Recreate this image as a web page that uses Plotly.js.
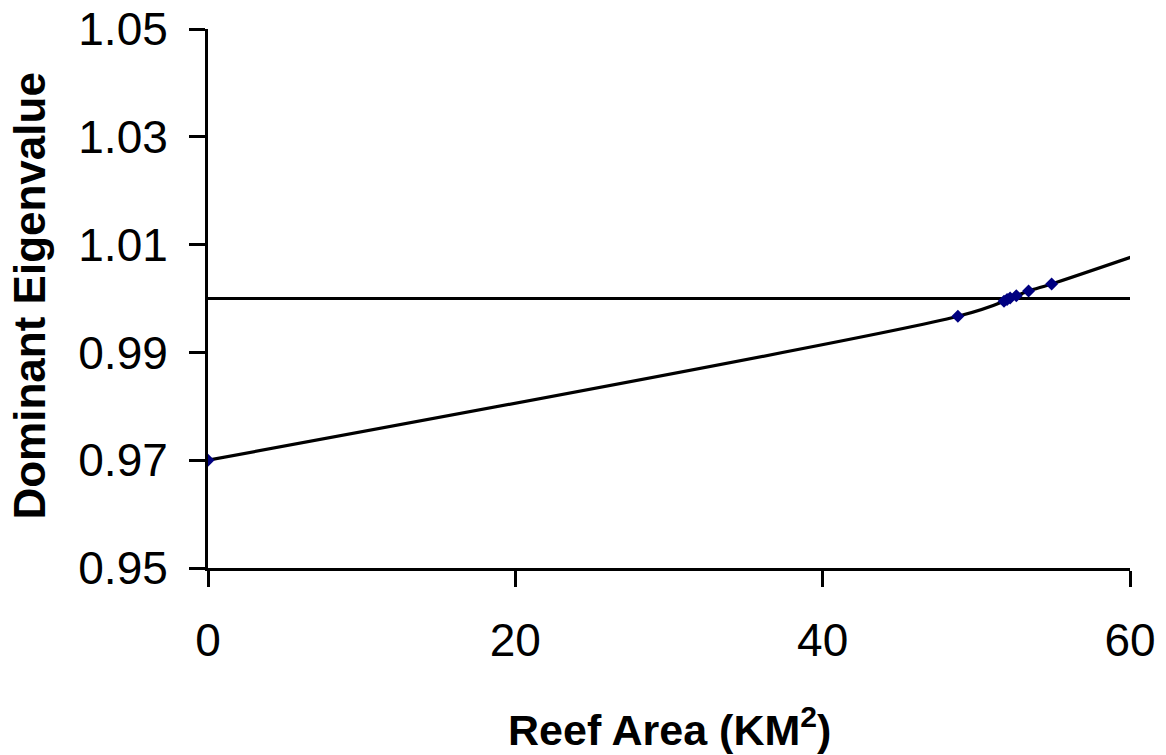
<!DOCTYPE html>
<html>
<head>
<meta charset="utf-8">
<script src="https://cdn.plot.ly/plotly-3.0.1.min.js"></script>
<style>html,body{margin:0;padding:0;background:#fff;}#chart{width:1166px;height:755px;}</style>
</head>
<body>
<div id="chart"></div>
<script>
const reefArea = [0, 48.8, 51.8, 52.0, 52.2, 52.6, 53.4, 54.9];
const eigenvalue = [0.970, 0.9967, 0.9995, 0.9998, 1.0001, 1.0005, 1.0014, 1.0027];
const curveEndX = 60.3;
const curveEndY = 1.0079;
const thresholdX = [0, 60];
const thresholdY = [1.0, 1.0];
const xTicks = [0, 20, 40, 60];
const yTicks = [0.95, 0.97, 0.99, 1.01, 1.03, 1.05];
const xTitle = '<b>Reef Area (KM<sup>2</sup>)</b>';
const yTitle = '<b>Dominant Eigenvalue</b>';

const lineX = reefArea.concat([curveEndX]);
const lineY = eigenvalue.concat([curveEndY]);

const traces = [
  {x: thresholdX, y: thresholdY, mode: 'lines', line: {color: '#000', width: 3}, hoverinfo: 'skip'},
  {x: lineX, y: lineY, mode: 'lines', line: {color: '#000', width: 3.2, shape: 'spline', smoothing: 0.8}},
  {x: reefArea, y: eigenvalue, mode: 'markers', marker: {symbol: 'diamond', color: '#000080', size: 10}}
];

const font = 'Liberation Sans, Arial, sans-serif';
const layout = {
  width: 1166, height: 755,
  margin: {l: 208, r: 36, t: 29, b: 187},
  showlegend: false,
  paper_bgcolor: '#fff', plot_bgcolor: '#fff',
  xaxis: {
    range: [0, 60], tickvals: xTicks, ticktext: xTicks.map(String),
    showgrid: false, zeroline: false, showline: true, linecolor: '#000', linewidth: 3,
    ticks: 'outside', ticklen: 16, tickwidth: 3, tickcolor: '#000',
    tickfont: {family: font, size: 46, color: '#000'}, ticklabelstandoff: 14
  },
  yaxis: {
    range: [0.95, 1.05], tickvals: yTicks, ticktext: yTicks.map(v => v.toFixed(2)),
    showgrid: false, zeroline: false, showline: true, linecolor: '#000', linewidth: 3,
    ticks: 'outside', ticklen: 16, tickwidth: 3, tickcolor: '#000',
    tickfont: {family: font, size: 46, color: '#000'}, ticklabelstandoff: 12
  },
  annotations: [
    {text: xTitle, xref: 'paper', yref: 'paper', x: 0.5, y: -0.2945, xanchor: 'center', yanchor: 'middle',
     showarrow: false, font: {family: font, size: 43, color: '#000'}},
    {text: yTitle, xref: 'paper', yref: 'paper', x: -0.1941, y: 0.5037, xanchor: 'center', yanchor: 'middle',
     textangle: -90, showarrow: false, font: {family: font, size: 44, color: '#000'}}
  ]
};
Plotly.newPlot('chart', traces, layout, {displayModeBar: false, staticPlot: true});
</script>
</body>
</html>
